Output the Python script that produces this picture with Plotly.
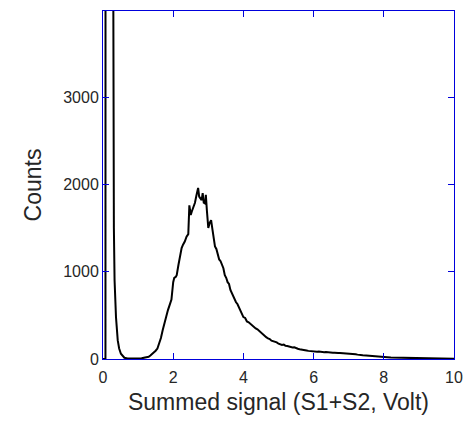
import plotly.graph_objects as go

# Histogram (signal in Volt, counts)
signal_volt = [
    0.00, 0.07, 0.09, 0.12, 0.16, 0.20, 0.24, 0.27, 0.29, 0.31, 0.33, 0.37, 0.42, 0.46, 0.51, 0.56,
    0.61, 0.70, 0.80, 0.90, 1.00, 1.05, 1.10, 1.15, 1.20, 1.25, 1.30, 1.35, 1.40, 1.45, 1.50, 1.55,
    1.60, 1.65, 1.70, 1.73, 1.77, 1.80, 1.85, 1.90, 1.95, 2.00, 2.03, 2.07, 2.10, 2.15, 2.20, 2.24,
    2.28, 2.33, 2.38, 2.43, 2.46, 2.50, 2.53, 2.57, 2.62, 2.66, 2.71, 2.74, 2.78, 2.81, 2.84, 2.87,
    2.91, 2.93, 2.96, 3.00, 3.04, 3.08, 3.12, 3.16, 3.19, 3.23, 3.27, 3.31, 3.35, 3.39, 3.43, 3.47,
    3.51, 3.55, 3.59, 3.63, 3.67, 3.71, 3.75, 3.79, 3.83, 3.87, 3.91, 3.95, 4.00, 4.05, 4.10, 4.15,
    4.20, 4.25, 4.30, 4.35, 4.40, 4.45, 4.50, 4.55, 4.60, 4.65, 4.70, 4.75, 4.80, 4.85, 4.90, 4.95,
    5.00, 5.05, 5.10, 5.15, 5.20, 5.25, 5.30, 5.35, 5.40, 5.45, 5.50, 5.55, 5.60, 5.65, 5.70, 5.75,
    5.80, 5.85, 5.90, 5.95, 6.00, 6.05, 6.10, 6.15, 6.20, 6.25, 6.30, 6.35, 6.40, 6.45, 6.50, 6.55,
    6.60, 6.65, 6.70, 6.75, 6.80, 6.85, 6.90, 6.95, 7.00, 7.05, 7.10, 7.15, 7.20, 7.25, 7.30, 7.35,
    7.40, 7.50, 7.60, 7.70, 7.80, 7.90, 8.00, 8.10, 8.20, 8.30, 8.40, 8.50, 8.60, 8.70, 8.80, 8.90,
    9.00, 9.10, 9.20, 9.30, 9.40, 9.50, 9.60, 9.70, 9.80, 9.90, 10.00,
]
counts = [
    0, 0, 60000, 80000, 70000, 50000, 30000, 8000, 2400, 1500, 900, 480, 213, 120, 60, 30,
    14, 5, 3, 2, 4, 6, 8, 12, 15, 18, 25, 40, 55, 75, 95, 120,
    170, 240, 330, 380, 450, 510, 560, 620, 680, 880, 930, 940, 960, 1080, 1200, 1270,
    1310, 1345, 1400, 1430, 1760, 1650, 1690, 1730, 1790, 1870, 1960, 1860, 1830, 1820, 1900, 1790,
    1780, 1880, 1700, 1500, 1560, 1590, 1480, 1360, 1290, 1260, 1180, 1140, 1120, 1070, 1040, 960,
    930, 880, 860, 790, 750, 710, 690, 650, 630, 590, 560, 520, 480, 470, 430, 420,
    400, 390, 370, 350, 340, 320, 310, 290, 260, 250, 235, 228, 210, 205, 195, 190,
    175, 170, 160, 165, 150, 148, 140, 138, 132, 135, 122, 118, 112, 110, 103, 100,
    97, 93, 90, 92, 86, 84, 82, 85, 80, 79, 78, 80, 76, 75, 75, 73,
    72, 74, 70, 69, 68, 66, 65, 63, 60, 59, 58, 56, 55, 50, 45, 44,
    42, 40, 38, 36, 30, 25, 22, 20, 16, 15, 18, 12, 10, 8, 6, 6,
    5, 6, 7, 5, 4, 3, 4, 3, 2, 2, 2,
]

x_ticks = [0, 2, 4, 6, 8, 10]
y_ticks = [0, 1000, 2000, 3000]

axis_blue = "rgb(0,0,220)"
label_grey = "#262626"
font_family = "Liberation Sans, Arial, sans-serif"

fig = go.Figure(
    go.Scatter(
        x=signal_volt,
        y=counts,
        mode="lines",
        line=dict(color="black", width=2),
        cliponaxis=True,
        showlegend=False,
    )
)

common_axis = dict(
    showline=True,
    linecolor=axis_blue,
    linewidth=1,
    mirror="ticks",
    ticks="inside",
    ticklen=6,
    tickcolor=axis_blue,
    tickwidth=1,
    showgrid=False,
    zeroline=False,
    automargin=False,
    tickfont=dict(family=font_family, size=16, color=label_grey),
)

fig.update_layout(
    width=468,
    height=422,
    margin=dict(l=103, r=14, t=11, b=63),
    paper_bgcolor="white",
    plot_bgcolor="white",
    font=dict(family=font_family, color=label_grey),
    xaxis=dict(
        range=[0, 10],
        tickvals=x_ticks,
        ticklabelstandoff=4,
        title=dict(text="Summed signal (S1+S2, Volt)", font=dict(size=23, color=label_grey), standoff=8),
        **common_axis,
    ),
    yaxis=dict(
        range=[0, 3986],
        tickvals=y_ticks,
        title=dict(text="Counts", font=dict(size=23, color=label_grey), standoff=15),
        **common_axis,
    ),
)

fig.write_html("out.html")
